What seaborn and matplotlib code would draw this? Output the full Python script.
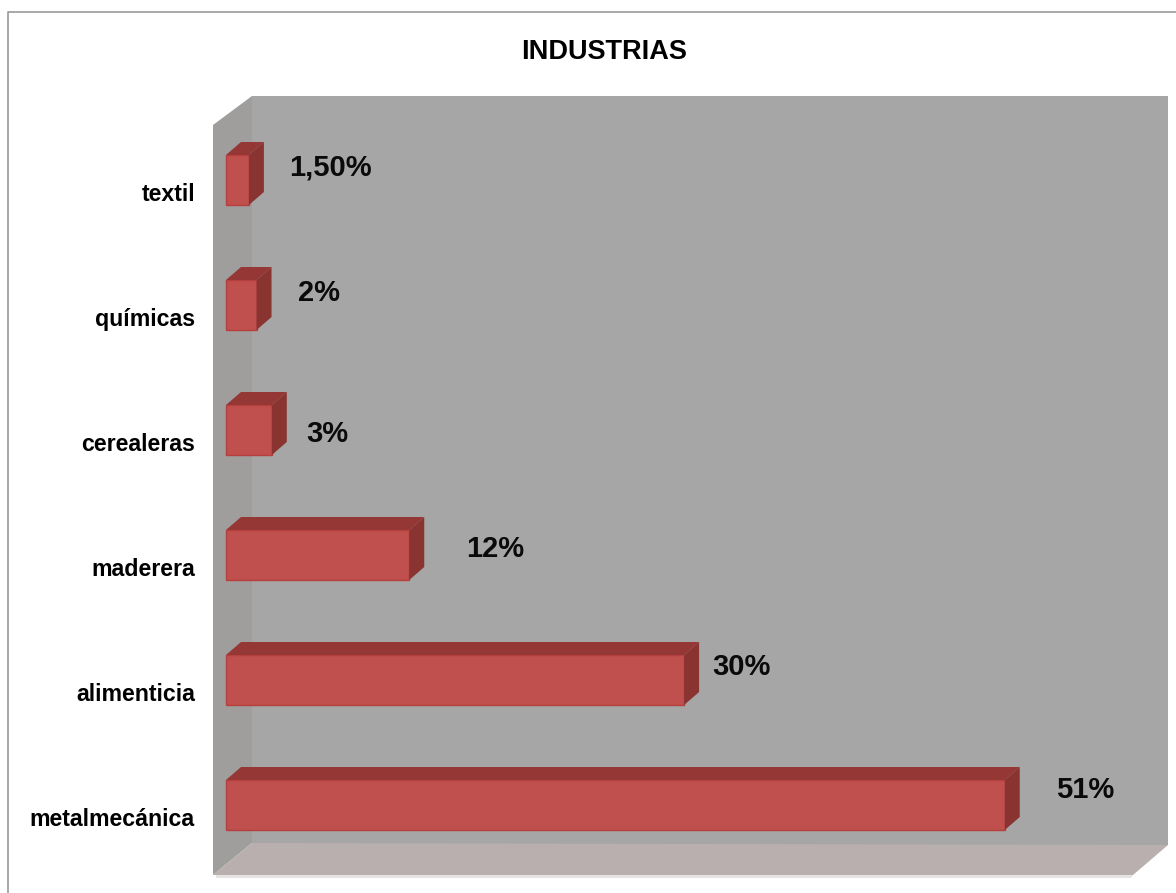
import pandas as pd
import seaborn as sns
import matplotlib.pyplot as plt
from matplotlib.lines import Line2D
from matplotlib.patches import Polygon
from matplotlib.transforms import ScaledTranslation

sectores = ['textil', 'químicas', 'cerealeras', 'maderera', 'alimenticia', 'metalmecánica']
valores = [1.5, 2, 3, 12, 30, 51]
etiquetas = ['1,50%', '2%', '3%', '12%', '30%', '51%']
# desplazamiento de cada etiqueta respecto al final de la barra (px)
despl_x = [82, 62, 56, 86, 57, 80]
despl_y = [13, 12, -4, 6, 13, 15]

W, H = 1176, 893
plt.rcParams['font.family'] = ['Liberation Sans', 'DejaVu Sans']
fig = plt.figure(figsize=(W / 100, H / 100), dpi=100, facecolor='white')


def px(x, y):
    return (x / W, 1 - y / H)


def caja(puntos, color, z=0):
    fig.add_artist(Polygon([px(*p) for p in puntos], closed=True, facecolor=color,
                           edgecolor='none', transform=fig.transFigure, zorder=z))


# marco exterior: solo se ven el borde superior y el izquierdo
fig.add_artist(Line2D([8 / W, 8 / W, 1], [0, 1 - 12 / H, 1 - 12 / H], color='#9a9a9a', linewidth=1.2,
                      transform=fig.transFigure, zorder=-1))

# paredes del grafico 3D
caja([(252, 96), (1168, 96), (1168, 845), (252, 845)], '#a6a6a6')
caja([(213, 125), (252, 96), (252, 843), (213, 875)], '#a09d9d')
caja([(213, 875), (252, 843), (1168, 845), (1133, 875)], '#b9afaf')
caja([(216, 875), (1133, 875), (1131, 878), (216, 878)], '#e6e3e3')

# ejes: x=0 en px 226, 15.27 px por unidad; 125 px entre categorias
ax = fig.add_axes([213 / W, 1 - 877 / H, (1168 - 213) / W, (877 - 96) / H])
ax.patch.set_alpha(0)
df = pd.DataFrame({'sector': sectores, 'valor': valores})
sns.barplot(data=df, x='valor', y='sector', order=sectores, orient='h', color='#c0504d',
            saturation=1, width=0.4, edgecolor='#b5403d', linewidth=1, ax=ax, zorder=3)
ax.set_xlim(-13 / 15.27, (1168 - 226) / 15.27)
ax.set_ylim((877 - 180) / 125, (96 - 180) / 125)
ax.set_xlabel('')
ax.set_ylabel('')
ax.set_xticks([])
sns.despine(ax=ax, left=True, bottom=True)

# caras superior y lateral de las barras
prof_x = 15 / 15.27
prof_y = 13 / 125
for barra in ax.patches:
    x0, y0 = barra.get_x(), barra.get_y()
    ancho, alto = barra.get_width(), barra.get_height()
    x1, y1 = x0 + ancho, y0 + alto
    ax.add_patch(Polygon([(x0, y0), (x0 + prof_x, y0 - prof_y), (x1 + prof_x, y0 - prof_y), (x1, y0)],
                         facecolor='#953735', edgecolor='none', zorder=3))
    ax.add_patch(Polygon([(x1, y0), (x1 + prof_x, y0 - prof_y), (x1 + prof_x, y1 - prof_y), (x1, y1)],
                         facecolor='#8a3432', edgecolor='none', zorder=3))

# etiquetas de categoria, algo por debajo de la barra
ax.tick_params(axis='y', length=0, pad=13, labelsize=16.7)
bajar = ScaledTranslation(0, -12 / 100, fig.dpi_scale_trans)
for t in ax.get_yticklabels():
    t.set_fontweight('bold')
    t.set_color('black')
    t.set_transform(t.get_transform() + bajar)

for i, v in enumerate(valores):
    ax.annotate(etiquetas[i], (v, i), xytext=(despl_x[i] * 0.72, despl_y[i] * 0.72),
                textcoords='offset points', ha='center', va='center',
                fontsize=21, fontweight='bold', color='#0a0a0a', zorder=5)

fig.text(604 / W, 1 - 52 / H, 'INDUSTRIAS', ha='center', va='center', fontsize=19.5,
         fontweight='bold', color='black')

plt.savefig('out.png', dpi=100)
plt.close()
